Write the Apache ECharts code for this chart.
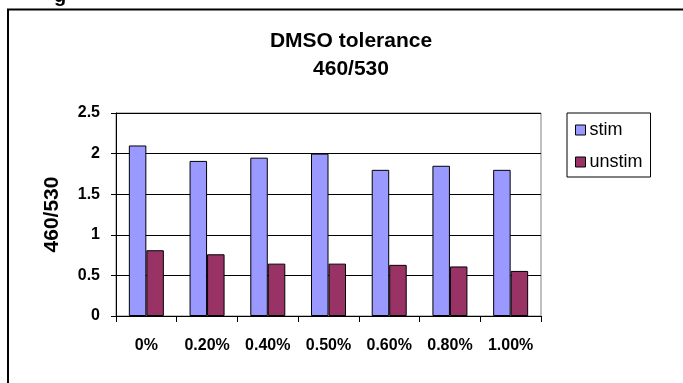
<!DOCTYPE html>
<html>
<head>
<meta charset="utf-8">
<script src="https://cdn.jsdelivr.net/npm/echarts@6/dist/echarts.min.js"></script>
<style>
html,body{margin:0;padding:0;background:#fff;}
#chart{width:683px;height:383px;}
</style>
</head>
<body>
<div id="chart"></div>
<script>
var titleText = 'DMSO tolerance\n460/530';
var yAxisName = '460/530';
var categories = ['0%', '0.20%', '0.40%', '0.50%', '0.60%', '0.80%', '1.00%'];
var stimValues = [2.1, 1.91, 1.95, 2.0, 1.8, 1.85, 1.8];
var unstimValues = [0.81, 0.76, 0.645, 0.645, 0.63, 0.61, 0.555];
var yTicks = { min: 0, max: 2.5, interval: 0.5 };

var FONT = '"Liberation Sans", Arial, sans-serif';
var chart = echarts.init(document.getElementById('chart'), null, { renderer: 'canvas' });
chart.setOption({
  animation: false,
  backgroundColor: '#ffffff',
  textStyle: { fontFamily: FONT, color: '#000' },
  graphic: [
    { type: 'rect', shape: { x: 8, y: 9.5, width: 700, height: 400 },
      style: { fill: 'none', stroke: '#000', lineWidth: 2 }, z: 0 },
    { type: 'text', left: 54, top: -14,
      style: { text: 'g', font: 'bold 20px ' + FONT, fill: '#000' } }
  ],
  title: {
    text: titleText,
    left: 346, top: 22,
    textAlign: 'center',
    textStyle: { fontSize: 21, fontWeight: 'bold', color: '#000', lineHeight: 28, fontFamily: FONT }
  },
  legend: {
    orient: 'vertical',
    left: 567, top: 113,
    padding: [8, 8, 6, 8],
    itemGap: 14,
    itemWidth: 10, itemHeight: 10,
    icon: 'rect',
    borderColor: '#000', borderWidth: 1,
    textStyle: { fontSize: 18, color: '#000', fontFamily: FONT, padding: [0, 0, 0, -1] },
    itemStyle: { borderColor: '#000', borderWidth: 1 },
    data: ['stim', 'unstim']
  },
  grid: {
    left: 116, right: 142, top: 113, bottom: 67,
    show: true, borderColor: '#808080', borderWidth: 1
  },
  xAxis: {
    type: 'category',
    data: categories,
    axisLine: { lineStyle: { color: '#000', width: 1 } },
    axisTick: { show: true, length: 6, lineStyle: { color: '#000' } },
    axisLabel: { margin: 22, fontSize: 16, fontWeight: 'bold', color: '#000', fontFamily: FONT, interval: 0 },
    splitLine: { show: false }
  },
  yAxis: {
    type: 'value',
    min: yTicks.min, max: yTicks.max, interval: yTicks.interval,
    name: yAxisName,
    nameLocation: 'middle',
    nameGap: 53,
    nameRotate: 90,
    nameTextStyle: { fontSize: 21, fontWeight: 'bold', color: '#000', fontFamily: FONT },
    axisLine: { show: true, lineStyle: { color: '#000', width: 1 } },
    axisTick: { show: true, length: 5, lineStyle: { color: '#000' } },
    axisLabel: { margin: 16, fontSize: 16, fontWeight: 'bold', color: '#000', fontFamily: FONT },
    splitLine: { show: true, lineStyle: { color: '#000', width: 1 } }
  },
  series: [
    { name: 'stim', type: 'bar', data: stimValues, barWidth: 17.5, barGap: '0%',
      itemStyle: { color: '#9999FF', borderColor: '#000', borderWidth: 1 } },
    { name: 'unstim', type: 'bar', data: unstimValues, barWidth: 17.5, barGap: '0%',
      itemStyle: { color: '#993366', borderColor: '#000', borderWidth: 1 } }
  ]
});
</script>
</body>
</html>
